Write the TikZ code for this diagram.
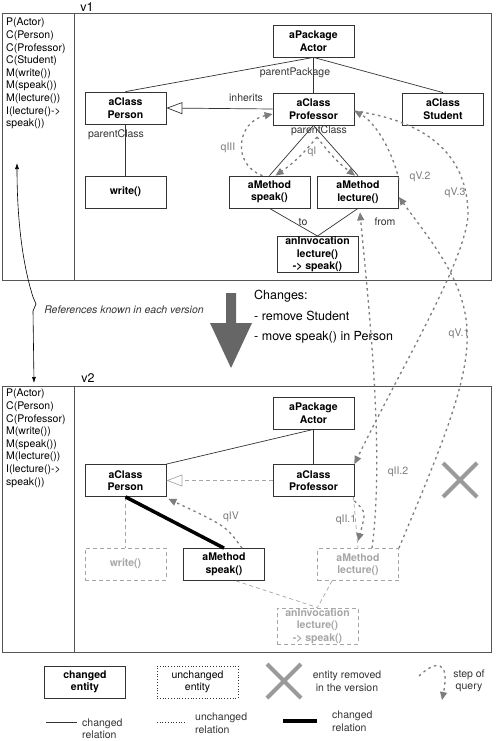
\documentclass[tikz,border=0pt]{standalone}
\usepackage{fontspec}
\setmainfont{TeX Gyre Heros}
\usetikzlibrary{arrows.meta}
\definecolor{verInk}{HTML}{333333}
\definecolor{verFrame}{HTML}{555555}
\definecolor{verOld}{HTML}{A6A6A6}
\definecolor{verQuery}{HTML}{7D7D7D}
\definecolor{verBig}{HTML}{666666}
\definecolor{verCross}{HTML}{9A9A9A}
\tikzset{
  ver frame/.style={draw=verFrame, line width=1pt},
  ver entity/.style={draw=verInk, line width=0.8pt, minimum width=81pt, minimum height=32pt, inner sep=1pt, align=center, font=\fontsize{10.5}{12.5}\selectfont\bfseries},
  ver old entity/.style={ver entity, draw=verOld, dash pattern=on 4pt off 3pt, text=verOld},
  ver rel/.style={draw=verInk, line width=0.7pt},
  ver old rel/.style={draw=verOld, line width=0.7pt, dash pattern=on 4pt off 3pt},
  ver new rel/.style={draw=black, line width=3.5pt},
  ver query/.style={draw=verQuery, line width=1.3pt, dash pattern=on 2.5pt off 3.5pt, -{Triangle[length=8pt,width=7pt]}},
  ver label/.style={font=\fontsize{10.5}{12.5}\selectfont, text=verInk, inner sep=0pt},
  ver qlabel/.style={font=\fontsize{10.5}{12.5}\selectfont, text=verQuery, inner sep=0pt},
  ver list/.style={font=\fontsize{10.5}{12.6}\selectfont, align=left, anchor=north west, inner sep=0pt},
  ver cross/.style={draw=verCross, line width=4pt},
}
\begin{document}
\begin{tikzpicture}[x=1pt, y=-1pt]
  \useasboundingbox (0,0) rectangle (495,741);

  % Two version panels with their reference column
  \draw[ver frame] (2,14) rectangle (491,280);
  \draw[ver frame] (74,14) -- (74,280);
  \draw[ver frame] (2,386) rectangle (491,652);
  \draw[ver frame] (74,386) -- (74,652);
  \node[font=\fontsize{12.5}{14}\selectfont] (v1) at (87,7) {v1};
  \node[font=\fontsize{12.5}{14}\selectfont] (v2) at (88,378) {v2};
  \node[ver list] (refs1) at (6,18) {P(Actor)\\C(Person)\\C(Professor)\\C(Student)\\M(write())\\M(speak())\\M(lecture())\\I(lecture()->\\speak())};
  \node[ver list] (refs2) at (6,389) {P(Actor)\\C(Person)\\C(Professor)\\M(write())\\M(speak())\\M(lecture())\\I(lecture()->\\speak())};

  % Version 1
  \node[ver entity] (pkg1) at (313.5,41) {aPackage\\Actor};
  \node[ver entity] (per1) at (125.5,108) {aClass\\Person};
  \node[ver entity] (prof1) at (313.5,109) {aClass\\Professor};
  \node[ver entity] (stu1) at (443,109) {aClass\\Student};
  \node[ver entity] (write1) at (125.5,192) {write()};
  \node[ver entity] (speak1) at (269.5,192) {aMethod\\speak()};
  \node[ver entity] (lec1) at (358,192) {aMethod\\lecture()};
  \node[ver entity, minimum height=35pt, inner sep=0.5pt] (inv1) at (317.5,254.5) {anInvocation\\lecture()\\-> speak()};

  \draw[ver rel] (pkg1.south) -- (per1.north);
  \draw[ver rel] (pkg1.south) -- (prof1.north);
  \draw[ver rel] (pkg1.south) -- (stu1.north);
  \draw[ver rel, -{Triangle[open, length=16pt, width=12pt, fill=white]}] (prof1.west) -- (per1.east);
  \draw[ver rel] (per1.south) -- (write1.north);
  \draw[ver rel] (prof1.south) -- (speak1.north);
  \draw[ver rel] (prof1.south) -- (lec1.north);
  \draw[ver rel] (speak1.south) -- (inv1.north);
  \draw[ver rel] (lec1.south) -- (inv1.north);
  \node[ver label] (lblPkg) at (295,73) {parentPackage};
  \node[ver label] (lblInh) at (246,98) {inherits};
  \node[ver label] (lblPc1) at (116,135) {parentClass};
  \node[ver label] (lblPc2) at (319,131) {parentClass};
  \node[ver label] (lblTo) at (303,222) {to};
  \node[ver label] (lblFrom) at (385,222) {from};

  % Version 2
  \node[ver entity] (pkg2) at (313.5,413) {aPackage\\Actor};
  \node[ver entity] (per2) at (125.5,480.5) {aClass\\Person};
  \node[ver entity] (prof2) at (313.5,480.5) {aClass\\Professor};
  \node[ver old entity] (write2) at (125.5,564) {write()};
  \node[ver entity] (speak2) at (224,564.5) {aMethod\\speak()};
  \node[ver old entity] (lec2) at (358,564.5) {aMethod\\lecture()};
  \node[ver old entity, minimum height=35pt, inner sep=0.5pt] (inv2) at (317.5,626) {anInvocation\\lecture()\\-> speak()};

  \draw[ver rel] (pkg2.south) -- (per2.north east);
  \draw[ver rel] (pkg2.south) -- (prof2.north);
  \draw[ver old rel, -{Triangle[open, length=16pt, width=12pt, fill=white]}] (prof2.west) -- (per2.east);
  \draw[ver old rel] (per2.south) -- (write2.north);
  \draw[ver new rel] (per2.south) -- (speak2.north);
  \draw[ver old rel] ([xshift=-1pt]prof2.south east) -- (lec2.north);
  \draw[ver old rel] ([xshift=12pt]speak2.south) -- (inv2.north);
  \draw[ver old rel] ([xshift=-26pt]lec2.south) -- (inv2.north);

  % Removed Student
  \draw[ver cross] (443,463) -- (477,497) (443,497) -- (477,463);

  % Query steps
  \coordinate (qI) at (317,137);
  \draw[ver query] (qI) to[bend left=8] ([xshift=6pt]speak1.north);
  \draw[ver query] (qI) to[bend right=8] ([xshift=-3pt]lec1.north);
  \node[ver qlabel] (lblqI) at (312,152) {qI};
  \draw[ver query] ([xshift=-7pt]speak1.north) .. controls (232,165) and (236,122) .. ([yshift=-5pt]prof1.west);
  \node[ver qlabel] (lblqIII) at (228,148) {qIII};
  \draw[ver query] ([yshift=-4pt]lec1.north east) .. controls (392,150) and (375,122) .. ([yshift=-2pt]prof1.east);
  \node[ver qlabel] (lblqV2) at (420,177) {qV.2};
  \draw[ver query] ([yshift=-2pt]prof1.east) .. controls (420,120) and (468,150) .. (468,215) .. controls (466,260) and (400,370) .. (prof2.north east);
  \node[ver qlabel] (lblqV3) at (455,193) {qV.3};
  \draw[ver query] (lec2.north east) .. controls (440,450) and (470,380) .. (467,330) .. controls (465,280) and (430,240) .. ([yshift=-5pt]lec1.east);
  \node[ver qlabel] (lblqV1) at (459,334) {qV.1};
  \draw[ver query] ([xshift=14pt]lec2.north) .. controls (385,450) and (368,300) .. ([xshift=2pt,yshift=-4pt]lec1.south);
  \node[ver qlabel] (lblqII2) at (398,472) {qII.2};
  \draw[ver query] ([yshift=-4pt]prof2.south east) .. controls (366,512) .. ([yshift=7pt]lec2.north);
  \node[ver qlabel] (lblqII1) at (346,520) {qII.1};
  \draw[ver query] ([xshift=18pt]speak2.north) .. controls (226,526) .. ([xshift=2pt,yshift=-2pt]per2.south east);
  \node[ver qlabel] (lblqIV) at (231,517) {qIV};

  % Between the versions
  \coordinate (refTop) at (17,163);
  \coordinate (refBot) at (34,383);
  \draw[black, line width=0.6pt, {Latex[length=6pt,width=4pt]}-{Latex[length=6pt,width=4pt]}]
    (refTop) .. controls (17,230) and (25,272) .. (33,297) -- (36,304) -- (33,311) -- (refBot);
  \node[font=\fontsize{10.5}{12.5}\selectfont\itshape, text=verInk, inner sep=0pt] (lblRefs) at (124,310) {References known in each version};
  \fill[verBig] (226,293) -- (236,293) -- (236,323) -- (252,323) -- (231,368) -- (210,323) -- (226,323) -- cycle;
  \node[font=\fontsize{12.5}{20.5}\selectfont, align=left, anchor=north west, inner sep=0pt] (changes) at (254,290) {Changes:\\- remove Student\\- move speak() in Person};

  % Legend
  \node[ver entity] (legNew) at (85,682) {changed\\entity};
  \node[ver entity, dotted, font=\fontsize{10.5}{12.5}\selectfont] (legOld) at (197.5,682) {unchanged\\entity};
  \draw[ver cross] (267,664) -- (301,698) (267,698) -- (301,664);
  \node[ver label, align=center] (legGone) at (347,681) {entity removed\\in the version};
  \coordinate (legQa) at (419,676);
  \coordinate (legQb) at (442,700);
  \draw[ver query] (legQa) .. controls (436,660) and (450,660) .. (legQb);
  \node[ver label, align=center] (legStep) at (469,681) {step of\\query};
  \coordinate (legAa) at (46,722);
  \coordinate (legAb) at (77,722);
  \draw[ver rel] (legAa) -- (legAb);
  \node[ver label, align=left, anchor=west] (legRel) at (82,728.5) {changed\\relation};
  \coordinate (legBa) at (157,722);
  \coordinate (legBb) at (185,722);
  \draw[ver rel, dotted] (legBa) -- (legBb);
  \node[ver label, align=left, anchor=west] (legOldRel) at (195,723) {unchanged\\relation};
  \coordinate (legCa) at (283,721);
  \coordinate (legCb) at (317,721);
  \draw[ver new rel] (legCa) -- (legCb);
  \node[ver label, align=left, anchor=west] (legNewRel) at (332,721) {changed\\relation};
\end{tikzpicture}
\end{document}
